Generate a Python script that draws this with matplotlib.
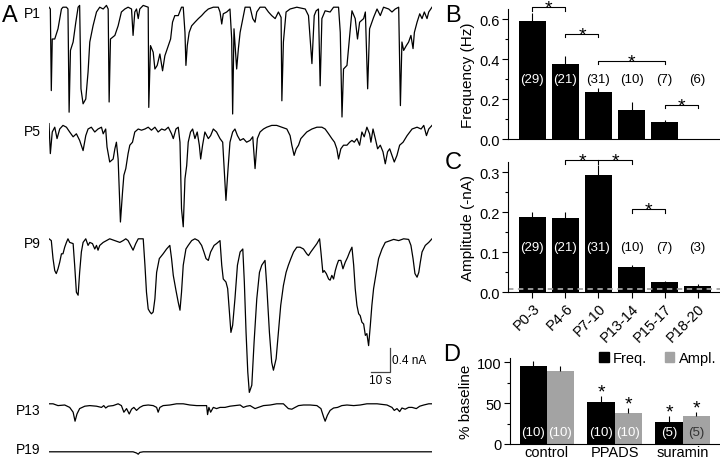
import matplotlib.pyplot as plt
import numpy as np
from matplotlib.patches import Patch

plt.rcParams['font.family'] = ['Liberation Sans', 'DejaVu Sans']

# ---- Panel A: example traces (time in s, current in nA) ----
trace_names = ['P1', 'P5', 'P9', 'P13', 'P19']

p1_t = [0, 0.7, 1.2, 1.7, 3.0, 4.7, 5.6, 6.5, 7.3, 9.1, 9.9, 10.5, 11.2, 12.6, 14.0, 15.2, 16.0, 16.7, 17.8, 19.2,
        20.4, 21.3, 23.0, 24.8, 26.5, 28.3, 30.0, 30.9, 31.4, 32.1, 34.4, 36.1, 37.8, 39.6, 41.3, 43.1, 43.9, 44.8,
        45.7, 46.6, 47.4, 49.2, 51.8, 52.1, 53.0, 54.4, 55.3, 56.5, 57.9, 59.3, 60.5, 62.3, 63.5, 64.5, 65.7, 67.5,
        69.2, 70.1, 71.0, 71.5, 72.2, 73.2, 74.5, 76.2, 78.0, 79.7, 81.4, 83.2, 85.8, 88.4, 89.3, 90.2, 91.0, 92.8,
        94.5, 95.4, 95.9, 96.6, 98.0, 98.9, 99.8, 101.2, 102.4, 105.0, 106.4, 107.6, 108.5, 110.2, 112.8, 114.6,
        116.3, 118.1, 119.8, 121.2, 121.6, 122.4, 123.8, 125.9, 129.4, 133.8, 135.5, 137.3, 138.5, 139.5, 140.7,
        141.6, 142.5, 144.2, 146.8, 148.6, 151.2, 152.1, 153.0, 153.8, 155.6, 157.0, 158.2, 159.9, 161.1, 162.2,
        164.3, 165.2, 166.4, 167.4, 168.6, 169.5, 171.3, 173.0, 174.7, 177.4, 179.1, 180.8, 182.6, 183.5, 184.3,
        185.2, 186.6, 187.8, 189.0, 190.1, 190.8, 192.2, 193.6, 194.8, 196.0, 197.4, 198.3, 200.0]
p1_i = [0, -0.03, -1.39, -0.53, -0.53, -0.36, -0.19, -0.03, 0, 0, -0.03, -1.75, -0.72, -0.58, -0.25, 0, 0.03, -1.36,
        -1.61, -1.53, -1.08, -0.58, -0.31, -0.08, 0, -0.03, 0.03, -0.03, -1.58, -0.53, -0.47, -0.31, -0.08, -0.03, 0,
        -0.03, -0.47, -0.08, -0.03, -0.19, -0.03, 0.03, 0, -1.67, -0.64, -0.75, -1.03, -0.97, -0.78, -1.06, -0.81,
        -0.64, -0.53, -0.25, -0.14, -0.14, 0, 0, -0.42, -0.97, -0.64, -0.42, -0.31, -0.25, -0.19, -0.14, -0.08,
        -0.03, 0, 0, -0.08, -0.28, -0.11, -0.08, -0.03, -0.53, -1.78, -0.36, -1.03, -0.69, -0.42, -0.19, 0, 0,
        -0.19, -0.25, -0.08, 0, 0, -0.08, -0.14, -0.19, -0.08, -0.17, -1.56, -0.58, -0.08, -0.03, 0, -0.03, -0.14,
        -0.94, -0.14, -0.06, -0.03, -1.31, -0.19, -0.06, -0.08, 0, 0, -0.42, -1.83, -1.03, -0.97, -0.47, -0.06,
        -0.19, -0.53, -0.25, -0.19, -0.08, -1.36, -0.36, -0.25, -0.17, -0.03, -0.14, 0, -0.03, -0.08, -0.03, 0,
        -1.64, -0.58, -0.72, -0.64, -0.58, -0.47, -0.69, -0.42, -0.25, -0.11, -0.19, -0.08, -0.19, -0.08, 0]

p5_t = [0, 0.7, 1.7, 3.0, 4.2, 5.6, 7.3, 9.1, 10.8, 12.6, 14.3, 16.0, 17.8, 19.2, 20.4, 22.1, 23.9, 25.6, 27.4, 28.3,
        29.6, 30.3, 31.7, 33.5, 34.4, 35.2, 36.1, 37.3, 38.4, 39.1, 40.1, 41.3, 42.2, 43.6, 44.8, 46.6, 48.3, 50.1,
        51.8, 53.5, 55.3, 57.0, 58.8, 60.5, 62.3, 64.0, 64.9, 66.3, 67.5, 68.4, 69.2, 70.1, 71.0, 71.9, 72.7, 73.9,
        75.0, 76.2, 77.4, 78.5, 79.2, 80.2, 81.4, 83.2, 84.4, 85.8, 87.5, 89.3, 90.7, 91.4, 92.4, 93.5, 94.5, 95.9,
        97.1, 98.4, 99.8, 101.5, 103.2, 105.0, 106.4, 107.6, 108.8, 110.2, 112.0, 113.7, 116.3, 118.9, 121.6,
        124.2, 125.9, 126.8, 128.0, 129.1, 130.3, 131.5, 132.9, 134.6, 137.3, 139.9, 142.5, 144.2, 146.0, 147.7,
        149.1, 150.3, 151.2, 152.4, 153.8, 155.6, 157.0, 158.2, 159.4, 160.8, 162.2, 163.4, 164.6, 166.0, 167.4,
        168.1, 169.2, 170.4, 171.6, 173.0, 174.4, 175.6, 176.8, 177.9, 179.1, 180.3, 181.7, 183.1, 184.9, 187.0,
        189.6, 192.2, 194.3, 195.7, 197.1, 198.3, 200.0]
p5_i = [0.03, -0.47, -0.11, -0.03, -0.22, -0.06, 0, -0.03, -0.11, -0.19, -0.14, -0.25, -0.42, -0.17, -0.06, -0.03,
        -0.11, -0.06, -0.03, -0.14, -0.06, -0.36, -0.61, -0.56, -0.39, -0.28, -0.56, -1.61, -1.11, -0.83, -0.72,
        -0.47, -0.33, -0.28, -0.11, -0.06, -0.08, -0.06, -0.03, -0.08, -0.03, -0.11, -0.06, -0.08, -0.03, -0.14,
        -0.22, -0.06, -0.03, -0.28, -1.39, -1.69, -0.89, -0.67, -0.28, -0.11, -0.06, -0.22, -0.11, -0.33, -0.56,
        -0.33, -0.11, -0.22, -0.17, -0.06, -0.11, -0.22, -0.28, -0.67, -1.25, -0.72, -0.28, -0.11, -0.06, -0.17,
        -0.25, -0.22, -0.28, -0.25, -0.19, -0.72, -0.22, -0.11, -0.06, -0.03, 0, 0, -0.03, -0.06, -0.17, -0.33,
        -0.50, -0.39, -0.33, -0.22, -0.17, -0.11, -0.06, -0.03, -0.03, -0.06, -0.14, -0.22, -0.28, -0.39, -0.56,
        -0.39, -0.33, -0.33, -0.28, -0.25, -0.28, -0.22, -0.33, -0.11, -0.19, -0.03, -0.14, -0.28, -0.06, -0.22,
        -0.39, -0.33, -0.44, -0.64, -0.44, -0.39, -0.50, -0.61, -0.50, -0.33, -0.28, -0.17, -0.06, -0.03, -0.06,
        0, -0.17, -0.06, 0]

p9_t = [0, 1.2, 2.1, 3.0, 3.8, 4.7, 5.6, 6.5, 7.3, 8.2, 9.1, 9.9, 10.8, 12.6, 13.4, 14.3, 15.2, 16.0, 16.9, 17.8,
        19.2, 20.4, 21.3, 22.7, 23.9, 24.8, 25.6, 26.5, 28.3, 30.0, 31.7, 34.4, 37.0, 38.7, 40.1, 41.3, 42.6, 43.9,
        45.3, 46.6, 49.2, 50.1, 50.9, 51.8, 52.7, 53.5, 54.4, 55.3, 56.2, 57.6, 59.6, 61.4, 63.1, 64.0, 64.9, 66.3,
        67.5, 68.4, 69.2, 70.1, 71.5, 72.7, 74.5, 76.2, 78.0, 79.7, 80.9, 82.0, 83.2, 84.4, 86.2, 87.5, 89.3, 90.2,
        91.0, 92.4, 93.3, 94.2, 95.0, 95.9, 97.1, 98.4, 99.8, 101.2, 102.0, 102.9, 103.8, 104.6, 105.9, 107.1,
        108.5, 109.9, 111.1, 112.8, 113.7, 115.1, 116.3, 117.2, 118.6, 119.8, 121.0, 122.4, 123.8, 125.0, 126.3,
        127.7, 129.4, 131.1, 132.9, 134.6, 135.5, 136.7, 138.5, 139.9, 141.3, 142.0, 143.0, 143.7, 144.8, 146.0,
        146.8, 147.7, 148.6, 149.5, 150.3, 151.2, 152.4, 153.5, 154.7, 155.9, 157.0, 158.2, 159.1, 159.9, 160.8,
        161.7, 162.5, 163.4, 164.3, 165.2, 166.0, 166.9, 167.8, 168.6, 169.5, 170.9, 172.1, 173.9, 175.6, 178.2,
        180.0, 182.6, 185.2, 187.8, 189.0, 190.1, 191.1, 192.2, 193.1, 193.9, 194.8, 196.5, 198.3, 200.0]
p9_i = [0, -0.03, -0.33, -0.53, -0.58, -0.50, -0.39, -0.25, -0.25, -0.14, -0.06, 0, -0.06, -0.08, -0.44, -0.89,
        -0.94, -0.56, -0.22, -0.06, 0, -0.11, -0.06, -0.08, -0.17, -0.11, -0.19, -0.11, -0.06, -0.03, 0, -0.03,
        -0.06, -0.03, 0, -0.03, -0.11, -0.19, -0.08, 0, 0, -0.44, -0.89, -1.17, -1.22, -1.25, -1.22, -1.00, -0.56,
        -0.33, -0.25, -0.17, -0.11, -0.33, -0.61, -0.86, -1.06, -1.19, -0.89, -0.44, -0.17, -0.11, -0.03, 0, -0.03,
        -0.11, -0.22, -0.33, -0.36, -0.22, -0.11, -0.08, -0.03, -0.44, -0.67, -0.72, -0.83, -1.22, -1.56, -1.44,
        -1.00, -0.44, -0.22, -0.17, -0.72, -1.56, -2.22, -2.56, -2.44, -1.72, -1.00, -0.56, -0.44, -0.36, -0.78,
        -1.56, -2.06, -2.19, -2.00, -1.56, -1.11, -0.78, -0.56, -0.44, -0.33, -0.22, -0.14, -0.14, -0.17, -0.25,
        -0.28, -0.22, -0.14, -0.08, 0, -0.22, -0.56, -0.53, -0.58, -0.67, -0.69, -0.61, -0.67, -0.53, -0.44,
        -0.36, -0.36, -0.50, -0.39, -0.31, -0.22, -0.14, -0.44, -0.83, -1.11, -1.25, -1.28, -1.39, -1.42, -1.61,
        -1.58, -1.78, -1.44, -1.11, -0.83, -0.56, -0.33, -0.17, -0.06, -0.03, -0.01, -0.03, 0, -0.01, -0.11,
        -0.33, -0.58, -0.64, -0.56, -0.39, -0.22, -0.11, -0.06, 0]

p13_t = [0, 2.1, 4.7, 8.2, 10.8, 12.6, 13.6, 14.6, 16.0, 18.7, 21.3, 24.8, 27.4, 28.6, 29.6, 30.9, 33.5, 36.1, 37.8,
         39.1, 40.5, 41.9, 43.1, 44.3, 45.7, 47.4, 49.2, 51.8, 54.4, 56.2, 57.0, 57.9, 59.6, 63.1, 66.6, 70.1, 73.6,
         77.1, 80.6, 82.3, 82.8, 83.5, 84.4, 85.8, 87.5, 89.3, 91.9, 94.5, 97.1, 99.8, 101.5, 103.2, 105.0, 107.6,
         109.3, 112.0, 115.5, 118.9, 122.4, 125.0, 126.8, 128.5, 130.3, 132.9, 136.4, 139.9, 142.0, 143.4, 144.2,
         145.4, 146.8, 148.6, 150.7, 152.9, 155.6, 159.1, 162.5, 166.0, 171.3, 176.5, 179.1, 180.3, 181.7, 183.1,
         184.3, 186.0, 187.8, 189.6, 191.8, 193.6, 195.7, 198.3, 200.0]
p13_i = [0, 0, -0.03, -0.02, -0.06, -0.14, -0.29, -0.17, -0.08, -0.04, -0.03, -0.04, -0.06, -0.03, -0.07, -0.04,
         -0.03, 0, -0.03, -0.14, -0.08, -0.17, -0.09, -0.06, -0.11, -0.06, -0.03, -0.02, -0.03, -0.06, -0.14, -0.06,
         -0.03, -0.02, 0, 0, -0.02, -0.03, -0.03, -0.03, -0.18, -0.06, -0.14, -0.06, -0.08, -0.06, -0.06, -0.04,
         -0.03, -0.02, -0.06, -0.04, -0.03, -0.08, -0.06, -0.03, -0.02, 0, 0, -0.08, -0.09, -0.06, -0.03, -0.02,
         -0.02, -0.03, -0.08, -0.22, -0.29, -0.19, -0.11, -0.07, -0.06, -0.03, -0.02, -0.03, -0.02, 0, 0, -0.02,
         -0.06, -0.11, -0.08, -0.13, -0.07, -0.09, -0.06, -0.06, -0.08, -0.04, -0.02, 0, 0]

p19_t = [0, 43.9, 45.7, 46.6, 47.4, 49.2, 200.0]
p19_i = [0, 0, -0.02, -0.04, -0.01, 0, 0]

# ---- Panel B / C: developmental summary ----
ages = ['P0-3', 'P4-6', 'P7-10', 'P13-14', 'P15-17', 'P18-20']
freq_mean = [0.59, 0.375, 0.237, 0.147, 0.083, 0.002]
freq_err = [0.04, 0.042, 0.016, 0.04, 0.012, 0.0]
freq_n = ['(29)', '(21)', '(31)', '(10)', '(7)', '(6)']
amp_mean = [0.188, 0.187, 0.293, 0.063, 0.025, 0.017]
amp_err = [0.014, 0.015, 0.026, 0.006, 0.004, 0.003]
amp_n = ['(29)', '(21)', '(31)', '(10)', '(7)', '(3)']
amp_noise = 0.008

# ---- Panel D: pharmacology ----
drugs = ['control', 'PPADS', 'suramin']
d_freq = [96, 51, 27.5]
d_freq_err = [6, 7.5, 6.5]
d_ampl = [90, 38, 34]
d_ampl_err = [6, 6, 5]
d_n = ['(10)', '(10)', '(5)']
d_sig = [False, True, True]

GRAY = '#a3a3a3'
FS = 10.5     # tick labels / axis labels
FN = 9.5      # n labels

fig = plt.figure(figsize=(7.2, 4.6), dpi=100)

# ---------------- Panel A ----------------
axA = fig.add_axes([49 / 720, 0, 383 / 720, 1])
axA.set_xlim(0, 200)
axA.set_ylim(0, 460 / 60)
axA.axis('off')
offsets = [7.53, 5.56, 3.67, 0.92, 0.12]
label_y = [7.44, 5.47, 3.60, 0.82, 0.16]
traces = [(p1_t, p1_i), (p5_t, p5_i), (p9_t, p9_i), (p13_t, p13_i), (p19_t, p19_i)]
for name, (t, i), off, ly in zip(trace_names, traces, offsets, label_y):
    axA.plot(t, np.array(i) + off, color='k', lw=0.9)
    axA.text(-4.5, ly, name, ha='right', va='center', fontsize=10)

# scale bar 10 s / 0.4 nA
sx, sy = 178, 1.45
axA.plot([sx - 10, sx, sx], [sy, sy, sy + 0.4], color='#444444', lw=0.9)
axA.text(sx + 1, sy + 0.2, '0.4 nA', ha='left', va='center', fontsize=8.5)
axA.text(sx - 5, sy - 0.03, '10 s', ha='center', va='top', fontsize=8.5)

fig.text(2 / 720, 1 - 16 / 460, 'A', fontsize=17, va='center', ha='left')
fig.text(445 / 720, 1 - 16 / 460, 'B', fontsize=17, va='center', ha='left')
fig.text(445 / 720, 1 - 163 / 460, 'C', fontsize=17, va='center', ha='left')
fig.text(443 / 720, 1 - 355 / 460, 'D', fontsize=17, va='center', ha='left')


def style(ax):
    for s in ['top', 'right']:
        ax.spines[s].set_visible(False)
    ax.tick_params(labelsize=FS, length=4, width=0.8, pad=2)
    ax.tick_params(which='minor', length=2, width=0.8)


def star(ax, xs, y):
    # asterisk sitting just above y
    ax.annotate('*', (xs, y), xytext=(0, -4), textcoords='offset points',
                ha='center', va='baseline', fontsize=14, annotation_clip=False)


def bracket(ax, x1, x2, y, tick, with_star=True, mids=()):
    ax.plot([x1, x1, x2, x2], [y - tick, y, y, y - tick], color='k', lw=0.8, clip_on=False)
    for m in mids:
        ax.plot([m, m], [y - tick, y], color='k', lw=0.8, clip_on=False)
    if with_star:
        star(ax, (x1 + x2) / 2, y)


x = np.arange(len(ages))

# ---------------- Panel B ----------------
axB = fig.add_axes([508 / 720, 1 - 140 / 460, 212 / 720, 130 / 460])
axB.bar(x, freq_mean, width=0.82, color='k')
axB.errorbar(x, freq_mean, yerr=[np.zeros(6), freq_err], fmt='none', ecolor='k', elinewidth=0.8, capsize=0)
axB.set_xlim(-0.74, 5.68)
axB.set_ylim(0, 0.65)
axB.set_yticks([0, 0.2, 0.4, 0.6])
axB.set_yticks([0.1, 0.3, 0.5], minor=True)
axB.set_yticklabels(['0.0', '0.2', '0.4', '0.6'])
axB.set_xticks([])
axB.set_ylabel('Frequency (Hz)', fontsize=FS + 0.5, labelpad=3)
style(axB)
for k in range(6):
    col = 'white' if freq_mean[k] > 0.32 else 'k'
    axB.text(x[k], 0.30, freq_n[k], ha='center', va='center', fontsize=FN, color=col)
bracket(axB, 0, 1, 0.659, 0.017)
bracket(axB, 1, 2, 0.525, 0.017)
bracket(axB, 2, 4, 0.39, 0.017)
bracket(axB, 4, 5, 0.17, 0.017)

# ---------------- Panel C ----------------
axC = fig.add_axes([508 / 720, 1 - 293.3 / 460, 212 / 720, 130 / 460])
axC.bar(x, amp_mean, width=0.82, color='k')
axC.errorbar(x, amp_mean, yerr=[np.zeros(6), amp_err], fmt='none', ecolor='k', elinewidth=0.8, capsize=0)
axC.axhline(amp_noise, color=GRAY, ls=(0, (3, 2.5)), lw=1.3)
axC.set_xlim(-0.74, 5.68)
axC.set_ylim(0, 0.325)
axC.set_yticks([0, 0.1, 0.2, 0.3])
axC.set_yticks([0.05, 0.15, 0.25], minor=True)
axC.set_yticklabels(['0.0', '0.1', '0.2', '0.3'])
axC.set_xticks(x)
axC.set_xticklabels(ages, rotation=45, ha='right', rotation_mode='anchor', fontsize=FS)
axC.set_ylabel('Amplitude (-nA)', fontsize=FS + 0.5, labelpad=3)
style(axC)
for k in range(6):
    col = 'white' if amp_mean[k] > 0.13 else 'k'
    axC.text(x[k], 0.113, amp_n[k], ha='center', va='center', fontsize=FN, color=col)
bracket(axC, 1, 3, 0.33, 0.009, with_star=False, mids=[2])
star(axC, 1.5, 0.33)
star(axC, 2.5, 0.33)
bracket(axC, 3, 4, 0.208, 0.009)

# ---------------- Panel D ----------------
xd = np.arange(len(drugs))
w = 0.4
axD = fig.add_axes([510 / 720, 1 - 445 / 460, 210 / 720, 86.4 / 460])
axD.bar(xd - w / 2, d_freq, width=w, color='k')
axD.bar(xd + w / 2, d_ampl, width=w, color=GRAY)
axD.errorbar(xd - w / 2, d_freq, yerr=[np.zeros(3), d_freq_err], fmt='none', ecolor='k', elinewidth=0.8)
axD.errorbar(xd + w / 2, d_ampl, yerr=[np.zeros(3), d_ampl_err], fmt='none', ecolor='k', elinewidth=0.8)
axD.set_xlim(-0.54, 2.55)
axD.set_ylim(0, 106)
axD.set_yticks([0, 50, 100])
axD.set_yticks([25, 75], minor=True)
axD.set_xticks(xd)
axD.set_xticklabels(drugs, fontsize=10)
axD.set_ylabel('% baseline', fontsize=FS + 0.5, labelpad=3)
style(axD)
axD.tick_params(axis='x', length=0, pad=1)
for k in range(3):
    axD.text(xd[k] - w / 2, 15, d_n[k], ha='center', va='center', fontsize=FN, color='white')
    axD.text(xd[k] + w / 2, 15, d_n[k], ha='center', va='center', fontsize=FN,
             color='white' if k < 2 else '#333333')
    if d_sig[k]:
        star(axD, xd[k] - w / 2, d_freq[k] + d_freq_err[k] + 7)
        star(axD, xd[k] + w / 2, d_ampl[k] + d_ampl_err[k] + 7)
handles = [Patch(color='k', label='Freq.'), Patch(color=GRAY, label='Ampl.')]
fig.legend(handles=handles, loc='center right', bbox_to_anchor=(716 / 720, 1 - 359 / 460), ncol=2,
           frameon=False, fontsize=FS, handlelength=0.65, handleheight=0.65, handletextpad=0.3,
           columnspacing=1.2, borderaxespad=0, borderpad=0)

fig.savefig('out.png', dpi=100)
